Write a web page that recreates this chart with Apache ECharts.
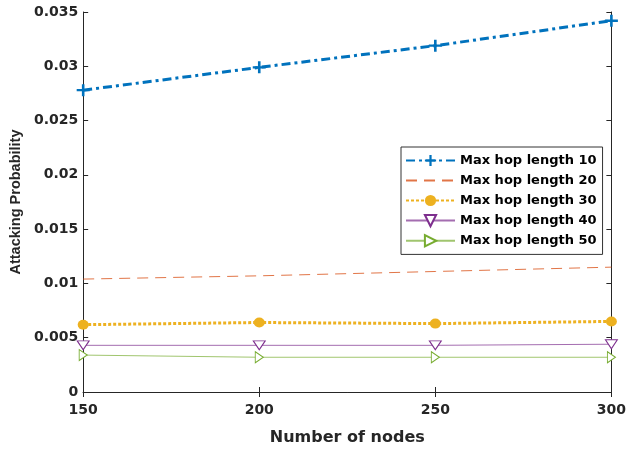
<!DOCTYPE html>
<html>
<head>
<meta charset="utf-8">
<script src="https://cdn.jsdelivr.net/npm/echarts@6/dist/echarts.min.js"></script>
<style>
  html, body { margin: 0; padding: 0; background: #fff; }
  #main { width: 629px; height: 451px; }
</style>
</head>
<body>
<div id="main"></div>
<script>
// 横轴：节点数
const nodes = [150, 200, 250, 300];
// 各最大跳数下的攻击概率
const hop10 = [0.0278, 0.0299, 0.0319, 0.0342];
const hop20 = [0.0104, 0.0107, 0.0111, 0.0115];
const hop30 = [0.0062, 0.0064, 0.0063, 0.0065];
const hop40 = [0.0043, 0.0043, 0.0043, 0.0044];
const hop50 = [0.0034, 0.0032, 0.0032, 0.0032];
const seriesNames = ['Max hop length 10', 'Max hop length 20', 'Max hop length 30', 'Max hop length 40', 'Max hop length 50'];

function pairs(ys) {
  return nodes.map(function (x, i) { return [x, ys[i]]; });
}

const wide = 'DejaVu Sans, sans-serif';
const narrow = 'Liberation Sans, Arial, sans-serif';
const plus = 'path://M4,0h2v4h4v2h-4v4h-2v-4h-4v-2h4z';

var myChart = echarts.init(document.getElementById('main'), null, {renderer: 'canvas'});

var option = {
  animation: false,
  backgroundColor: '#fff',
  grid: { left: 80, right: 12, top: 12, bottom: 59, show: false },
  legend: {
    orient: 'vertical',
    left: 401, top: 147,
    padding: [7, 6, 7, 4],
    itemGap: 7,
    itemWidth: 49, itemHeight: 14,
    backgroundColor: '#fff',
    borderColor: '#333', borderWidth: 1,
    textStyle: { fontFamily: wide, fontWeight: 'bold', fontSize: 13, color: '#000' },
    data: [
      seriesNames[0],
      { name: seriesNames[1], itemStyle: { opacity: 0 } },
      seriesNames[2], seriesNames[3], seriesNames[4]
    ]
  },
  xAxis: [{
    type: 'value', min: 150, max: 300, interval: 50,
    name: 'Number of nodes', nameLocation: 'middle', nameGap: 38,
    nameTextStyle: { fontFamily: wide, fontWeight: 'bold', fontSize: 16, color: '#262626' },
    axisLine: { lineStyle: { color: '#262626', width: 1 } },
    axisTick: { inside: true, length: 5, lineStyle: { color: '#262626' } },
    axisLabel: { fontFamily: wide, fontWeight: 'bold', fontSize: 14, color: '#262626', margin: 11 },
    splitLine: { show: false }
  }, {
    type: 'value', position: 'top', min: 150, max: 300, interval: 50,
    axisLine: { lineStyle: { color: '#262626', width: 1 } },
    axisTick: { inside: true, length: 5, lineStyle: { color: '#262626' } },
    axisLabel: { show: false },
    splitLine: { show: false }
  }],
  yAxis: [{
    type: 'value', min: 0, max: 0.035, interval: 0.005,
    name: 'Attacking Probability', nameLocation: 'middle', nameGap: 58,
    nameTextStyle: { fontFamily: narrow, fontWeight: 'bold', fontSize: 14.5, color: '#262626' },
    axisLine: { show: true, lineStyle: { color: '#262626', width: 1 } },
    axisTick: { show: true, inside: true, length: 5, lineStyle: { color: '#262626' } },
    axisLabel: { fontFamily: wide, fontWeight: 'bold', fontSize: 14, color: '#262626', margin: 5,
      formatter: function (v) { return +v.toFixed(3) + ''; } },
    splitLine: { show: false }
  }, {
    type: 'value', position: 'right', min: 0, max: 0.035, interval: 0.005,
    axisLine: { show: true, lineStyle: { color: '#262626', width: 1 } },
    axisTick: { show: true, inside: true, length: 5, lineStyle: { color: '#262626' } },
    axisLabel: { show: false },
    splitLine: { show: false }
  }],
  series: [{
    name: seriesNames[0], type: 'line', data: pairs(hop10),
    lineStyle: { color: '#0072BD', width: 3, type: [9, 4, 3, 4] },
    symbol: plus, symbolSize: [13, 12],
    itemStyle: { color: '#0072BD' }
  }, {
    name: seriesNames[1], type: 'line', data: pairs(hop20),
    lineStyle: { color: '#D95319', width: 1, type: [11, 7], opacity: 0.8 },
    symbol: 'none', showSymbol: false,
    itemStyle: { color: '#D95319' }
  }, {
    name: seriesNames[2], type: 'line', data: pairs(hop30),
    lineStyle: { color: '#EDB120', width: 3, type: [3, 2] },
    symbol: 'circle', symbolSize: [11, 10],
    itemStyle: { color: '#EDB120' }
  }, {
    name: seriesNames[3], type: 'line', data: pairs(hop40),
    lineStyle: { color: '#7E2F8E', width: 1, opacity: 0.7 },
    symbol: 'triangle', symbolRotate: 180, symbolSize: [12, 9],
    itemStyle: { color: '#fff', borderColor: '#7E2F8E', borderWidth: 1 }
  }, {
    name: seriesNames[4], type: 'line', data: pairs(hop50),
    lineStyle: { color: '#77AC30', width: 1, opacity: 0.7 },
    symbol: 'triangle', symbolRotate: -90, symbolSize: [11, 8],
    itemStyle: { color: '#fff', borderColor: '#77AC30', borderWidth: 1 }
  }]
};

myChart.setOption(option);
</script>
</body>
</html>
